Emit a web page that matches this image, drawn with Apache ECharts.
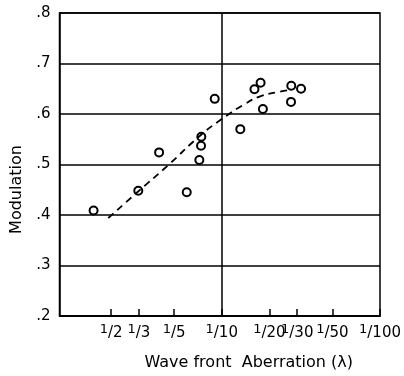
<!DOCTYPE html>
<html>
<head>
<meta charset="utf-8">
<script src="https://cdn.jsdelivr.net/npm/echarts@6/dist/echarts.min.js"></script>
<style>
  html, body { margin: 0; padding: 0; background: #fff; }
  #chart { width: 404px; height: 376px; }
</style>
</head>
<body>
<div id="chart"></div>
<script>
// x values are the denominators of the aberration (1/N wave)
const tickDenoms = [2, 3, 5, 10, 20, 30, 50, 100]
const yTicks = [0.2, 0.3, 0.4, 0.5, 0.6, 0.7, 0.8]

// measured points
const pointDenoms = [1.55, 2.97, 4.02, 6.01, 7.22, 7.40, 7.43, 9.03, 13.1, 16.1, 17.6, 18.2, 27.5, 27.4, 31.7]
const pointValues = [0.409, 0.448, 0.524, 0.445, 0.509, 0.537, 0.555, 0.630, 0.570, 0.649, 0.662, 0.610, 0.656, 0.624, 0.650]

// dashed trend curve
const curveDenoms = [1.92, 2.95, 4.6, 7.29, 10, 13.7, 17.5, 22.3, 27.7]
const curveValues = [0.394, 0.446, 0.499, 0.557, 0.590, 0.618, 0.635, 0.643, 0.648]

const FONT = 'DejaVu Sans'
const chart = echarts.init(document.getElementById('chart'), null, { renderer: 'canvas' })

const option = {
  animation: false,
  backgroundColor: '#fff',
  grid: {
    left: 59.5, right: 24, top: 13, bottom: 60,
    show: true, borderColor: '#000', borderWidth: 1.5,
  },
  xAxis: {
    type: 'log', logBase: 10, min: 0.944, max: 100,
    name: 'Wave front  Aberration (λ)',
    nameLocation: 'middle', nameGap: 39,
    nameTextStyle: { fontFamily: FONT, fontSize: 16, color: '#000', padding: [0, 0, 0, 58] },
    axisLine: { lineStyle: { color: '#000', width: 1.5 } },
    axisTick: { inside: true, length: 7, customValues: tickDenoms, lineStyle: { color: '#000', width: 1.5 } },
    axisLabel: {
      customValues: tickDenoms, margin: 7, color: '#000',
      formatter: v => '{n|1}{s|/}{d|' + v + '}',
      rich: {
        n: { fontFamily: FONT, fontSize: 13, color: '#000', padding: [0, 0, 7, 0] },
        s: { fontFamily: FONT, fontSize: 15, color: '#000' },
        d: { fontFamily: FONT, fontSize: 15, color: '#000' },
      },
    },
    splitLine: { show: false },
  },
  yAxis: {
    type: 'value', min: 0.2, max: 0.8, interval: 0.1,
    name: 'Modulation',
    nameLocation: 'middle', nameGap: 33,
    nameTextStyle: { fontFamily: FONT, fontSize: 16, color: '#000', padding: [0, 50, 0, 0] },
    axisLine: { show: true, lineStyle: { color: '#000', width: 1.5 } },
    axisTick: { show: false },
    axisLabel: {
      margin: 9, fontFamily: FONT, fontSize: 15, color: '#000',
      formatter: v => yTicks.some(t => Math.abs(t - v) < 1e-6) ? v.toFixed(1).replace(/^0/, '') : '',
    },
    splitLine: { show: true, lineStyle: { color: '#000', width: 1.5 } },
  },
  series: [
    {
      type: 'line', smooth: true, symbol: 'none',
      data: curveDenoms.map((d, i) => [d, curveValues[i]]),
      lineStyle: { color: '#000', width: 1.8, type: [7, 5] },
      markLine: {
        silent: true, symbol: 'none', label: { show: false },
        lineStyle: { color: '#000', width: 1.5, type: 'solid' },
        data: [{ xAxis: 10 }],
      },
    },
    {
      type: 'scatter', symbol: 'emptyCircle', symbolSize: 8,
      data: pointDenoms.map((d, i) => [d, pointValues[i]]),
      itemStyle: { color: '#000', borderColor: '#000', borderWidth: 1.8, opacity: 1 },
    },
  ],
}

chart.setOption(option)
</script>
</body>
</html>
